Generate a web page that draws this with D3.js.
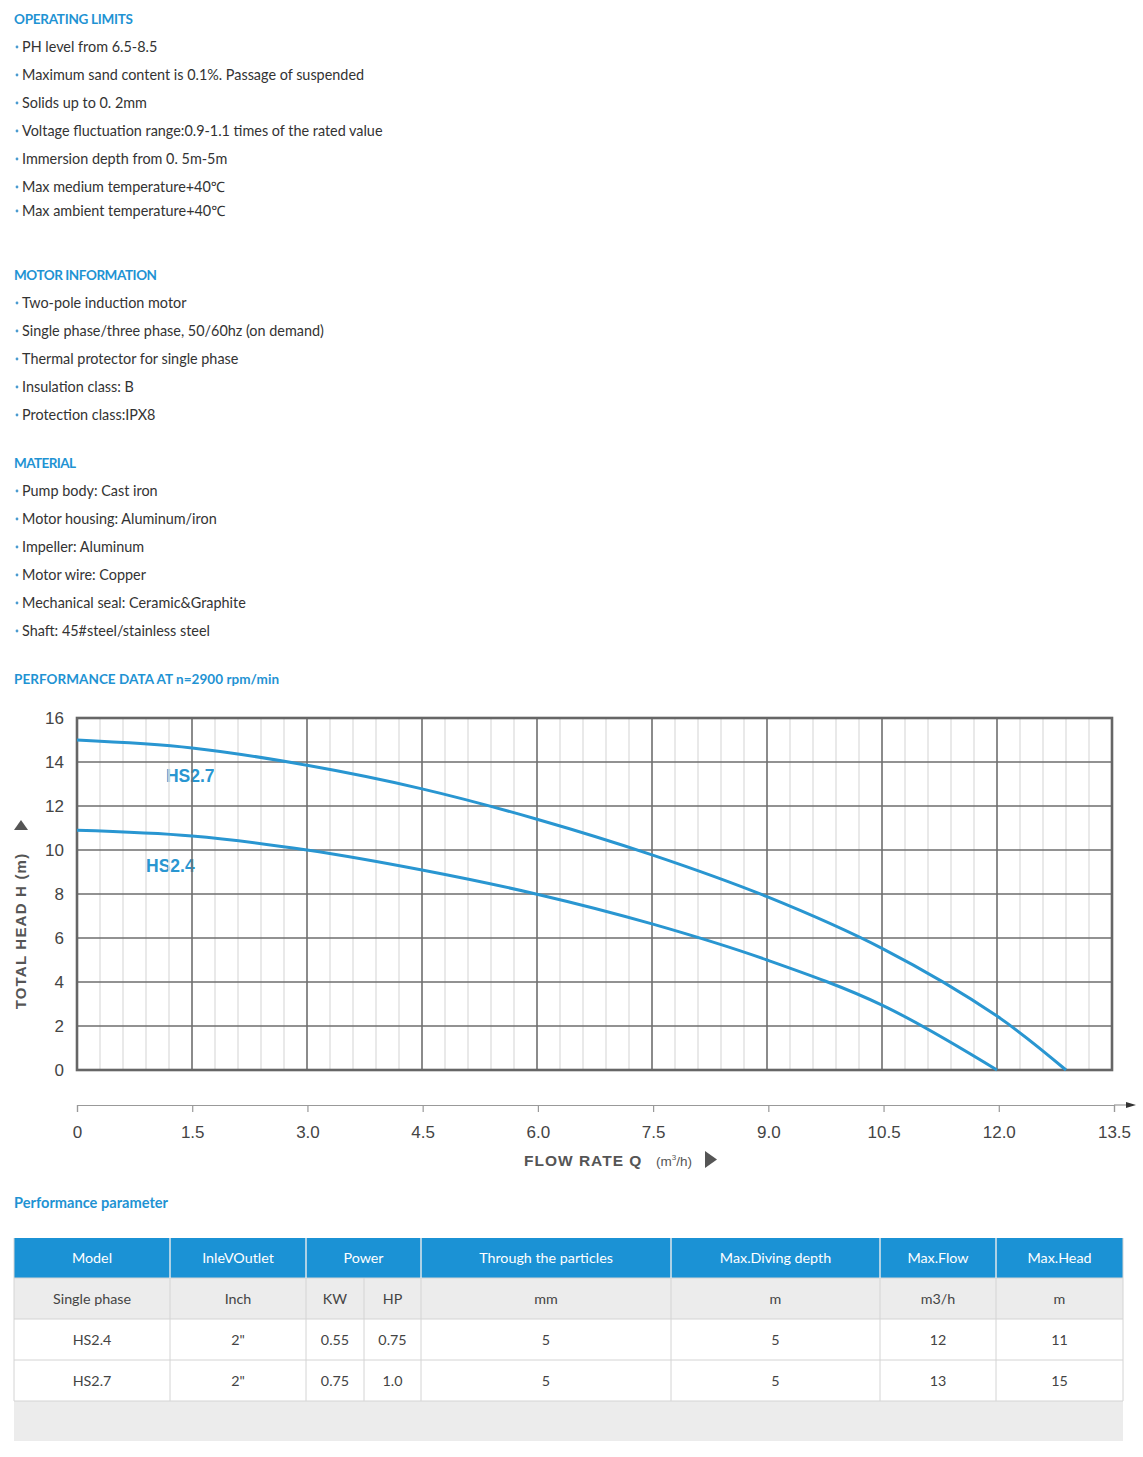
<!DOCTYPE html>
<html><head><meta charset="utf-8">
<script src="https://cdn.jsdelivr.net/npm/d3@7"></script>
<style>
body{margin:0;background:#fff;}
svg{display:block;}
</style></head>
<body>
<svg id="c" width="1143" height="1457"></svg>
<script>
// ---------- DATA ----------
const operatingLimits = [
  "PH level from 6.5-8.5",
  "Maximum sand content is 0.1%. Passage of suspended",
  "Solids up to 0. 2mm",
  "Voltage fluctuation range:0.9-1.1 times of the rated value",
  "Immersion depth from 0. 5m-5m",
  "Max medium temperature+40℃",
  "Max ambient temperature+40℃"
];
const motorInfo = [
  "Two-pole induction motor",
  "Single phase/three phase, 50/60hz (on demand)",
  "Thermal protector for single phase",
  "Insulation class: B",
  "Protection class:IPX8"
];
const material = [
  "Pump body: Cast iron",
  "Motor housing: Aluminum/iron",
  "Impeller: Aluminum",
  "Motor wire: Copper",
  "Mechanical seal: Ceramic&Graphite",
  "Shaft: 45#steel/stainless steel"
];
const seriesNames = ["HS2.7", "HS2.4"];
const hs27Flow = [0, 1.5, 3.0, 4.5, 6.0, 7.5, 9.0, 10.5, 12.0, 12.9];
const hs27Head = [15.0, 14.64, 13.85, 12.78, 11.4, 9.78, 7.88, 5.53, 2.45, 0];
const hs24Flow = [0, 1.5, 3.0, 4.5, 6.0, 7.5, 9.0, 10.5, 12.0];
const hs24Head = [10.9, 10.64, 10.0, 9.09, 7.99, 6.64, 5.0, 2.95, 0];
const xTicks = [0, 1.5, 3.0, 4.5, 6.0, 7.5, 9.0, 10.5, 12.0, 13.5];
const yTicks = [0, 2, 4, 6, 8, 10, 12, 14, 16];
const tableHeader = ["Model", "InleVOutlet", "Power", "Through the particles", "Max.Diving depth", "Max.Flow", "Max.Head"];
const tableUnits = ["Single phase", "Inch", "KW", "HP", "mm", "m", "m3/h", "m"];
const tableRows = [
  ["HS2.4", "2\"", "0.55", "0.75", "5", "5", "12", "11"],
  ["HS2.7", "2\"", "0.75", "1.0", "5", "5", "13", "15"]
];

// ---------- STYLE ----------
const BLUE = "#1f93d3";
const CURVE = "#2996d1";
const TXT = "#333";
const FONT = "Lato, 'Noto Sans', sans-serif";
const AX = "'Liberation Sans', Arial, sans-serif";

const svg = d3.select("#c");

// ---------- TEXT SECTIONS ----------
function heading(txt, y, w, fs) {
  svg.append("text").attr("x", 14).attr("y", y + 5)
    .attr("font-family", FONT).attr("font-weight", 700).attr("font-size", fs || 13.5)
    .attr("textLength", w).attr("lengthAdjust", "spacing")
    .attr("fill", BLUE).text(txt);
}
function bullets(list, ys) {
  list.forEach((t, i) => {
    svg.append("circle").attr("cx", 17).attr("cy", ys[i]).attr("r", 1.4).attr("fill", "#4a9bd0");
    svg.append("text").attr("x", 22).attr("y", ys[i] + 5)
      .attr("font-family", FONT).attr("font-size", 14.4).attr("fill", TXT).text(t);
  });
}
heading("OPERATING LIMITS", 19, 119);
bullets(operatingLimits, [47, 75, 103, 131, 159, 187, 211]);
heading("MOTOR INFORMATION", 275, 143);
bullets(motorInfo, [303, 331, 359, 387, 415]);
heading("MATERIAL", 463, 62);
bullets(material, [491, 519, 547, 575, 603, 631]);
heading("PERFORMANCE DATA AT n=2900 rpm/min", 679, 265);
heading("Performance parameter", 1203, 154, 14.6);

// ---------- CHART ----------
const x = d3.scaleLinear().domain([0, 13.5]).range([77, 1112]);
const y = d3.scaleLinear().domain([0, 16]).range([1070, 718]);

// curve labels (drawn under grid)
const labelPos = [[1.16, 13.36], [0.9, 9.27]];
seriesNames.forEach((n, i) => {
  svg.append("text").attr("x", x(labelPos[i][0])).attr("y", y(labelPos[i][1]) + 6)
    .attr("font-family", AX).attr("font-weight", 700).attr("font-size", 17.5)
    .attr("fill", CURVE).text(n);
});

const grid = svg.append("g");
const minor = d3.range(0, 13.5001, 0.3).filter(v => Math.abs(v / 1.5 - Math.round(v / 1.5)) > 1e-6);
grid.selectAll(".mn").data(minor).join("line")
  .attr("x1", d => x(d)).attr("x2", d => x(d)).attr("y1", y(16)).attr("y2", y(0))
  .attr("stroke", "#e2e2e2").attr("stroke-width", 1.5);
grid.selectAll(".mj").data(xTicks).join("line")
  .attr("x1", d => x(d)).attr("x2", d => x(d)).attr("y1", y(16)).attr("y2", y(0))
  .attr("stroke", "#6e6e6e").attr("stroke-width", 1.6);
grid.selectAll(".hz").data(yTicks).join("line")
  .attr("x1", x(0)).attr("x2", x(13.5)).attr("y1", d => y(d)).attr("y2", d => y(d))
  .attr("stroke", "#6e6e6e").attr("stroke-width", 1.6);
svg.append("rect").attr("x", x(0)).attr("y", y(16)).attr("width", x(13.5) - x(0)).attr("height", y(0) - y(16))
  .attr("fill", "none").attr("stroke", "#666").attr("stroke-width", 2.6);

// curves
const line = d3.line().x(d => x(d[0])).y(d => y(d[1])).curve(d3.curveCatmullRom.alpha(0.5));
[[hs27Flow, hs27Head], [hs24Flow, hs24Head]].forEach(([f, h]) => {
  svg.append("path").attr("d", line(f.map((q, i) => [q, h[i]])))
    .attr("fill", "none").attr("stroke", CURVE).attr("stroke-width", 3);
});

// y axis labels
const yAxis = svg.append("g").attr("transform", `translate(${x(0)},0)`)
  .call(d3.axisLeft(y).tickValues(yTicks).tickSize(0).tickPadding(13).tickFormat(d3.format("d")));
yAxis.select(".domain").remove();
yAxis.selectAll("text").attr("font-family", AX).attr("font-size", 17).attr("fill", "#444");

// y title
svg.append("text").attr("transform", "translate(26,931) rotate(-90)")
  .attr("text-anchor", "middle").attr("font-family", AX).attr("font-size", 15)
  .attr("font-weight", 700).attr("letter-spacing", 1.2).attr("fill", "#555")
  .text("TOTAL HEAD H (m)");
svg.append("path").attr("d", "M14,830 L28,830 L21,820 Z").attr("fill", "#555");

// bottom axis
const xb = d3.scaleLinear().domain([0, 13.5]).range([77, 1114]);
const xAxis = svg.append("g").attr("transform", "translate(0,1105)")
  .call(d3.axisBottom(xb).tickValues(xTicks).tickSize(7).tickPadding(14)
    .tickFormat(d => d === 0 ? "0" : d3.format(".1f")(d)));
xAxis.select(".domain").attr("stroke", "#999").attr("stroke-width", 1.2);
xAxis.selectAll(".tick line").attr("stroke", "#999").attr("stroke-width", 1.2);
xAxis.selectAll("text").attr("font-family", AX).attr("font-size", 17).attr("fill", "#444");
svg.append("line").attr("x1", 1114).attr("x2", 1128).attr("y1", 1105).attr("y2", 1105)
  .attr("stroke", "#999").attr("stroke-width", 1.2);
svg.append("path").attr("d", "M1126,1102 L1136,1105 L1126,1108 Z").attr("fill", "#333");

svg.append("text").attr("x", 524).attr("y", 1166)
  .attr("font-family", AX).attr("font-weight", 700).attr("font-size", 15.5)
  .attr("letter-spacing", 1).attr("fill", "#555").text("FLOW RATE Q");
const unit = svg.append("text").attr("x", 656).attr("y", 1166)
  .attr("font-family", AX).attr("font-size", 13.5).attr("fill", "#555");
unit.append("tspan").text("(m");
unit.append("tspan").attr("font-size", 8).attr("dy", -6).text("3");
unit.append("tspan").attr("dy", 6).text("/h)");
svg.append("path").attr("d", "M705,1151 L717,1159.5 L705,1168 Z").attr("fill", "#555");

// ---------- TABLE ----------
const colX = [14, 170, 306, 364, 421, 671, 880, 996, 1123];
const rowY = [1238, 1278, 1319, 1360, 1401, 1441];
const tb = svg.append("g");
tb.append("rect").attr("x", colX[0]).attr("y", rowY[0]).attr("width", colX[8] - colX[0]).attr("height", rowY[1] - rowY[0]).attr("fill", "#1b92d5");
tb.append("rect").attr("x", colX[0]).attr("y", rowY[1]).attr("width", colX[8] - colX[0]).attr("height", rowY[2] - rowY[1]).attr("fill", "#ececec");
tb.append("rect").attr("x", colX[0]).attr("y", rowY[4]).attr("width", colX[8] - colX[0]).attr("height", rowY[5] - rowY[4]).attr("fill", "#ececec");
const bc = "#d4d4d4";
[rowY[1], rowY[2], rowY[3], rowY[4]].forEach(yy => {
  tb.append("line").attr("x1", colX[0]).attr("x2", colX[8]).attr("y1", yy).attr("y2", yy).attr("stroke", bc).attr("stroke-width", 1);
});
colX.forEach((cx, i) => {
  const top = (i === 3) ? rowY[1] : rowY[0];
  tb.append("line").attr("x1", cx).attr("x2", cx).attr("y1", top).attr("y2", rowY[4])
    .attr("stroke", bc).attr("stroke-width", 1);
  if (i > 0 && i < 8 && i !== 3) {
    tb.append("line").attr("x1", cx).attr("x2", cx).attr("y1", rowY[0]).attr("y2", rowY[1])
      .attr("stroke", "#ffffff").attr("stroke-opacity", 0.8).attr("stroke-width", 1);
  }
});
const headCols = [[0, 1], [1, 2], [2, 4], [4, 5], [5, 6], [6, 7], [7, 8]];
tableHeader.forEach((h, i) => {
  const cx = (colX[headCols[i][0]] + colX[headCols[i][1]]) / 2;
  tb.append("text").attr("x", cx).attr("y", (rowY[0] + rowY[1]) / 2 + 5).attr("text-anchor", "middle")
    .attr("font-family", FONT).attr("font-size", 14.3).attr("fill", "#fff").text(h);
});
function rowText(vals, r) {
  vals.forEach((v, i) => {
    const cx = (colX[i] + colX[i + 1]) / 2;
    tb.append("text").attr("x", cx).attr("y", (rowY[r] + rowY[r + 1]) / 2 + 5).attr("text-anchor", "middle")
      .attr("font-family", FONT).attr("font-size", 14.3).attr("fill", "#444").text(v);
  });
}
rowText(tableUnits, 1);
tableRows.forEach((r, i) => rowText(r, 2 + i));
</script>
</body></html>
